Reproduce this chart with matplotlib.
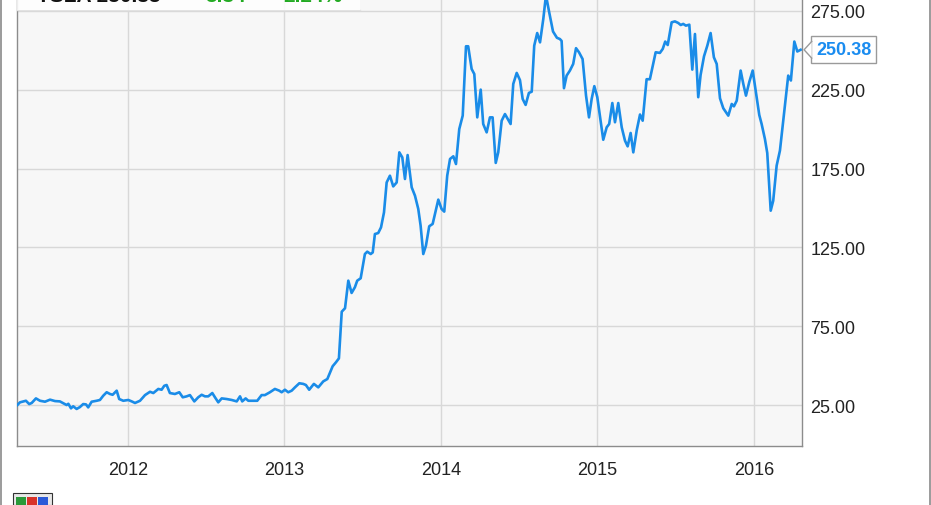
import matplotlib
matplotlib.use("Agg")
import matplotlib.pyplot as plt
import matplotlib.transforms as mtransforms
from matplotlib.patches import Rectangle, Polygon
from matplotlib.lines import Line2D

plt.rcParams["font.family"] = ["Liberation Sans", "DejaVu Sans"]

# TSLA weekly close, x in decimal years
years = [
    2011.293, 2011.310, 2011.348, 2011.369, 2011.385, 2011.412, 2011.438, 2011.470,
    2011.502, 2011.534, 2011.565, 2011.587, 2011.608, 2011.619, 2011.636, 2011.650,
    2011.672, 2011.693, 2011.714, 2011.732, 2011.746, 2011.768, 2011.800, 2011.821,
    2011.842, 2011.864, 2011.885, 2011.902, 2011.928, 2011.944, 2011.970, 2012.002,
    2012.024, 2012.045, 2012.077, 2012.109, 2012.141, 2012.162, 2012.194, 2012.215,
    2012.232, 2012.247, 2012.268, 2012.300, 2012.328, 2012.350, 2012.375, 2012.396,
    2012.424, 2012.449, 2012.471, 2012.492, 2012.513, 2012.539, 2012.556, 2012.577,
    2012.599, 2012.631, 2012.663, 2012.695, 2012.716, 2012.730, 2012.752, 2012.769,
    2012.801, 2012.826, 2012.854, 2012.875, 2012.907, 2012.939, 2012.967, 2012.982,
    2013.003, 2013.024, 2013.046, 2013.067, 2013.095, 2013.120, 2013.137, 2013.158,
    2013.188, 2013.216, 2013.248, 2013.274, 2013.308, 2013.329, 2013.348, 2013.366,
    2013.387, 2013.408, 2013.429, 2013.450, 2013.465, 2013.487, 2013.514, 2013.529,
    2013.551, 2013.564, 2013.578, 2013.599, 2013.617, 2013.636, 2013.653, 2013.674,
    2013.695, 2013.717, 2013.734, 2013.753, 2013.770, 2013.787, 2013.813, 2013.834,
    2013.855, 2013.870, 2013.887, 2013.904, 2013.925, 2013.947, 2013.983, 2014.004,
    2014.021, 2014.040, 2014.058, 2014.079, 2014.096, 2014.117, 2014.139, 2014.160,
    2014.174, 2014.196, 2014.213, 2014.232, 2014.254, 2014.270, 2014.292, 2014.313,
    2014.330, 2014.350, 2014.366, 2014.388, 2014.409, 2014.445, 2014.462, 2014.484,
    2014.505, 2014.522, 2014.541, 2014.562, 2014.580, 2014.596, 2014.615, 2014.633,
    2014.654, 2014.671, 2014.690, 2014.716, 2014.741, 2014.760, 2014.771, 2014.786,
    2014.803, 2014.824, 2014.845, 2014.863, 2014.882, 2014.905, 2014.927, 2014.946,
    2014.963, 2014.980, 2014.999, 2015.020, 2015.037, 2015.059, 2015.075, 2015.095,
    2015.112, 2015.133, 2015.155, 2015.176, 2015.193, 2015.212, 2015.229, 2015.251,
    2015.272, 2015.289, 2015.314, 2015.335, 2015.372, 2015.399, 2015.417, 2015.433,
    2015.449, 2015.474, 2015.495, 2015.516, 2015.532, 2015.548, 2015.565, 2015.587,
    2015.606, 2015.623, 2015.644, 2015.659, 2015.681, 2015.702, 2015.723, 2015.744,
    2015.762, 2015.783, 2015.804, 2015.836, 2015.858, 2015.872, 2015.890, 2015.915,
    2015.932, 2015.949, 2015.970, 2015.992, 2016.017, 2016.034, 2016.049, 2016.070,
    2016.085, 2016.107, 2016.123, 2016.145, 2016.166, 2016.192, 2016.219, 2016.236,
    2016.258, 2016.277, 2016.298,
]
price = [
    25.0, 26.7, 27.7, 25.6, 26.3, 29.2, 27.7, 27.1,
    28.4, 27.5, 27.3, 26.1, 25.0, 25.8, 22.9, 24.2,
    22.5, 23.7, 25.6, 25.4, 23.5, 27.1, 27.7, 28.2,
    30.9, 33.1, 32.0, 31.5, 34.1, 28.8, 27.7, 28.2,
    27.3, 26.3, 27.7, 31.3, 33.4, 32.6, 35.2, 34.7,
    37.2, 37.7, 32.6, 32.0, 33.1, 29.9, 30.5, 31.3,
    27.3, 29.9, 31.5, 30.5, 30.5, 32.6, 29.9, 26.7,
    29.2, 28.8, 28.2, 27.3, 30.5, 27.3, 29.2, 27.7,
    27.7, 27.7, 31.3, 31.3, 33.1, 35.2, 34.1, 33.1,
    34.7, 33.1, 34.1, 36.2, 38.8, 38.4, 37.7, 34.7,
    38.4, 36.2, 40.0, 41.5, 49.6, 52.1, 54.6, 84.2,
    86.4, 103.9, 96.1, 99.7, 103.9, 105.4, 120.8, 122.3,
    120.8, 121.8, 133.5, 134.1, 137.7, 147.2, 166.2, 170.5,
    163.7, 166.2, 185.3, 182.1, 168.4, 183.6, 163.1, 157.8,
    149.4, 138.8, 120.8, 126.1, 138.4, 139.9, 155.3, 149.4,
    147.7, 170.5, 181.1, 182.8, 177.9, 200.1, 208.6, 252.6,
    252.6, 238.2, 235.0, 207.5, 225.1, 203.3, 198.0, 207.5,
    207.5, 178.6, 185.3, 205.4, 209.6, 203.3, 228.7, 235.7,
    231.1, 219.2, 215.4, 223.0, 223.8, 253.0, 261.0, 255.1,
    270.0, 285.0, 275.0, 262.0, 258.0, 257.2, 256.0, 226.0,
    234.0, 237.2, 241.4, 251.4, 248.8, 244.5, 221.3, 207.5,
    219.2, 227.3, 220.3, 205.4, 193.3, 201.2, 203.3, 216.6,
    204.4, 216.6, 201.2, 192.7, 189.1, 197.6, 185.3, 199.3,
    209.3, 205.4, 231.7, 231.7, 248.8, 248.4, 250.9, 255.6,
    253.4, 267.8, 268.4, 267.4, 266.1, 266.8, 265.7, 266.3,
    237.8, 260.4, 220.3, 234.4, 246.3, 253.0, 261.0, 245.6,
    241.4, 219.6, 213.3, 208.6, 216.0, 214.5, 218.1, 237.2,
    228.7, 221.3, 229.9, 237.2, 220.3, 209.0, 203.3, 193.8,
    184.9, 148.3, 154.6, 176.9, 186.4, 209.6, 234.0, 230.9,
    255.6, 249.3, 249.3,
]
last_price = 250.38

year_ticks = [2012, 2013, 2014, 2015, 2016]
year_labels = ["2012", "2013", "2014", "2015", "2016"]
price_ticks = [25, 75, 125, 175, 225, 275]
price_labels = ["25.00", "75.00", "125.00", "175.00", "225.00", "275.00"]

header_parts = [("TSLA 250.38", "#111111"), ("5.34", "#22aa22"), ("2.24%", "#22aa22")]

LINE = "#1a8ce8"
W, H = 931, 506

fig = plt.figure(figsize=(W / 100, H / 100), dpi=100)
ax = fig.add_axes([17 / W, 1 - 447 / H, (802 - 17) / W, 447 / H])
ax.set_facecolor("#f7f7f7")

ax.plot(years[:-1] + [years[-1]], price[:-1] + [last_price], color=LINE, lw=1.9,
        solid_joinstyle="round", zorder=3)

ax.set_xlim(2011.291, 2016.307)
ax.set_ylim(-1.0, 282.6)
ax.set_xticks(year_ticks)
ax.set_xticklabels(year_labels)
ax.set_yticks(price_ticks)
ax.set_yticklabels(price_labels)
ax.yaxis.tick_right()
ax.tick_params(axis="both", length=0, labelsize=13, colors="#222222")
ax.tick_params(axis="y", pad=6)
ax.tick_params(axis="x", pad=11)
ax.grid(True, color="#d8d8d8", lw=1.0)
ax.set_axisbelow(True)
for side in ["left", "bottom", "right"]:
    ax.spines[side].set_color("#8c8c8c")
    ax.spines[side].set_linewidth(1.0)
ax.spines["top"].set_visible(False)

# last price flag
blend = mtransforms.blended_transform_factory(ax.transAxes, ax.transData)
ax.annotate(f"{last_price:.2f}", xy=(1.0, last_price), xycoords=blend,
            xytext=(10, 0), textcoords="offset points", ha="left", va="center",
            fontsize=13, fontweight="bold", color="#1a8cf0", annotation_clip=False,
            bbox=dict(boxstyle="square,pad=0.28", fc="white", ec="#9a9a9a", lw=1.0),
            zorder=5)
notch_x = [7.0, 1.5, 7.0]
notch_y = [6.0, 0.0, -6.0]
tri_tf = [mtransforms.offset_copy(blend, fig=fig, x=dx, y=dy, units="points")
          for dx, dy in zip(notch_x, notch_y)]
disp = [t.transform((1.0, last_price)) for t in tri_tf]
fig_pts = [fig.transFigure.inverted().transform(p) for p in disp]
fig.patches.append(Polygon(fig_pts, closed=True, fc="white", ec="none",
                           transform=fig.transFigure, zorder=6))
fig.lines.append(Line2D([p[0] for p in fig_pts], [p[1] for p in fig_pts],
                        color="#9a9a9a", lw=1.0, transform=fig.transFigure, zorder=7))

# header strip (cropped at top of the picture, as in the source)
fig.patches.append(Rectangle((17 / W, 1 - 11 / H), (360 - 17) / W, 11 / H,
                             transform=fig.transFigure, fc="white", ec="none",
                             alpha=0.85, zorder=4))
fig.lines.append(Line2D([17 / W, 360 / W], [1 - 11 / H, 1 - 11 / H],
                        color="#e2e2e2", lw=1.0, transform=fig.transFigure, zorder=4))
for (txt, col), x0 in zip(header_parts, [37, 205, 283]):
    fig.text(x0 / W, 1 - 1.5 / H, txt, color=col, fontsize=15, fontweight="bold",
             ha="left", va="baseline", zorder=5)

# outer frame lines
for xf in [1.2 / W, 930 / W]:
    fig.lines.append(Line2D([xf, xf], [0, 1], color="#8a8a8a", lw=1.2,
                            transform=fig.transFigure))

# small logo bottom-left
fig.patches.append(Rectangle((13 / W, 0), 39 / W, 12 / H, transform=fig.transFigure,
                             fc="#e8e8e8", ec="#333333", lw=0.8))
for x0, c in zip([16, 27, 38], ["#2a9a3a", "#d8322a", "#2a5ad8"]):
    fig.patches.append(Rectangle((x0 / W, 0), 10 / W, 8 / H, transform=fig.transFigure,
                                 fc=c, ec="none"))

fig.savefig("out.png", dpi=100)
